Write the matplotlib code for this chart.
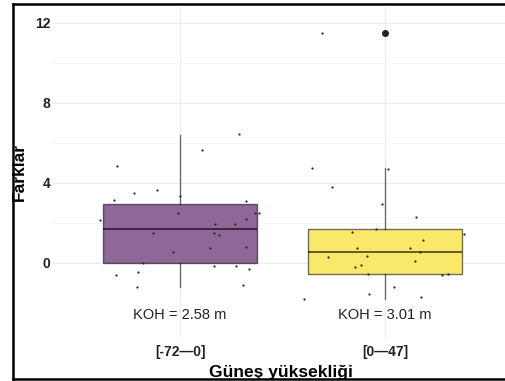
import numpy as np
import matplotlib
matplotlib.use("Agg")
import matplotlib.pyplot as plt
from matplotlib.lines import Line2D

plt.rcParams["font.family"] = ["Liberation Sans", "DejaVu Sans"]

# categories and labels
groups = ["[-72\u20140]", "[0\u201447]"]
koh_labels = ["KOH = 2.58 m", "KOH = 3.01 m"]
koh_y = -2.6

# box statistics
q1 = [0.0, -0.53]
med = [1.72, 0.57]
q3 = [2.97, 1.72]
whislo = [-1.18, -1.78]
whishi = [6.42, 4.77]
fliers = [[], [11.5]]

# jittered observations (x position, value)
g1_x = [0.69, 0.776, 0.888, 1.0, 0.68, 1.107, 1.288, 1.32, 0.61, 0.99, 1.367, 1.385,
        1.17, 1.267, 1.32, 0.867, 1.166, 1.19, 0.964, 1.145, 1.32, 0.818, 1.166,
        1.275, 1.337, 0.688, 0.795, 0.79, 1.305]
g1_y = [4.84, 3.49, 3.67, 3.33, 3.14, 5.66, 6.44, 3.09, 2.14, 2.49, 2.52, 2.51,
        1.96, 1.96, 2.22, 1.49, 1.51, 1.41, 0.575, 0.74, 0.79, 0.01, -0.14,
        -0.125, -0.29, -0.59, -0.46, -1.19, -1.09]
g2_x = [1.693, 1.644, 1.743, 2.013, 1.984, 2.153, 1.84, 1.958, 2.387, 2.185, 1.863,
        2.123, 2.169, 1.72, 1.912, 2.145, 1.852, 1.884, 1.919, 2.28, 2.306, 2.044,
        1.922, 2.176, 1.606]
g2_y = [11.5, 4.74, 3.78, 4.71, 2.94, 2.31, 1.56, 1.72, 1.44, 1.14, 0.775,
        0.775, 0.575, 0.325, 0.34, 0.11, -0.175, -0.075, -0.525, -0.575, -0.54, -1.19,
        -1.54, -1.69, -1.81]

fills = ["#8f6798", "#f9e86a"]
line_col = (0, 0, 0, 0.55)

fig = plt.figure(figsize=(5.06, 3.81), dpi=100)
ax = fig.add_axes([53 / 506, 1 - 337 / 381, 455 / 506, 330 / 381])

stats = []
for i in range(2):
    stats.append({"q1": q1[i], "med": med[i], "q3": q3[i],
                  "whislo": whislo[i], "whishi": whishi[i], "fliers": fliers[i]})

bp = ax.bxp(stats, positions=[1, 2], widths=0.755, patch_artist=True,
            showcaps=False, manage_ticks=False,
            boxprops=dict(edgecolor=line_col, linewidth=1.0),
            medianprops=dict(color=(0, 0, 0, 0.6), linewidth=1.4),
            whiskerprops=dict(color=line_col, linewidth=1.0),
            flierprops=dict(marker="o", markerfacecolor="#222222",
                            markeredgecolor="#222222", markersize=4))
for patch, c in zip(bp["boxes"], fills):
    patch.set_facecolor(c)

ax.scatter(g1_x, g1_y, s=2.5, color="#222222", zorder=4, linewidths=0)
ax.scatter(g2_x, g2_y, s=2.5, color="#222222", zorder=4, linewidths=0)

for i in range(2):
    ax.text(i + 1, koh_y, koh_labels[i], ha="center", va="center",
            fontsize=10.5, color="#222222")

ax.set_xlim(0.38, 2.6)
ax.set_ylim(-3.7, 12.8)
ax.set_xticks([1, 2])
ax.set_xticklabels(groups, fontsize=10, fontweight="bold", color="#222222")
ax.set_yticks([0, 4, 8, 12])
ax.set_yticks([2, 6, 10], minor=True)
ax.set_yticklabels(["0", "4", "8", "12"], fontsize=10, fontweight="bold", color="#222222")
ax.tick_params(axis="both", which="both", length=0)
ax.tick_params(axis="x", pad=6)
ax.tick_params(axis="y", pad=2)

ax.grid(True, which="major", color="#ebebeb", linewidth=0.8)
ax.grid(True, which="minor", axis="y", color="#f5f5f5", linewidth=0.6)
ax.set_axisbelow(True)
for s in ax.spines.values():
    s.set_visible(False)

ax.set_xlabel("Güneş yüksekliği", fontsize=12.5, fontweight="bold")
ax.set_ylabel("Farklar", fontsize=12.5, fontweight="bold")
ax.xaxis.set_label_coords(0.5, -(372 - 337) / 330, transform=ax.transAxes)
ax.xaxis.label.set_va("center")
ax.yaxis.set_label_coords((19 - 53) / 455, 0.5, transform=ax.transAxes)
ax.yaxis.label.set_va("center")

# outer frame
top = 1 - 4 / 381
bot = 1 - 379 / 381
left = 13 / 506
fig.add_artist(Line2D([left, 1.01], [top, top], color="black", linewidth=1.8, transform=fig.transFigure))
fig.add_artist(Line2D([left, 1.01], [bot, bot], color="black", linewidth=1.8, transform=fig.transFigure))
fig.add_artist(Line2D([left, left], [bot, top], color="black", linewidth=1.8, transform=fig.transFigure))

fig.savefig("out.png", dpi=100)
